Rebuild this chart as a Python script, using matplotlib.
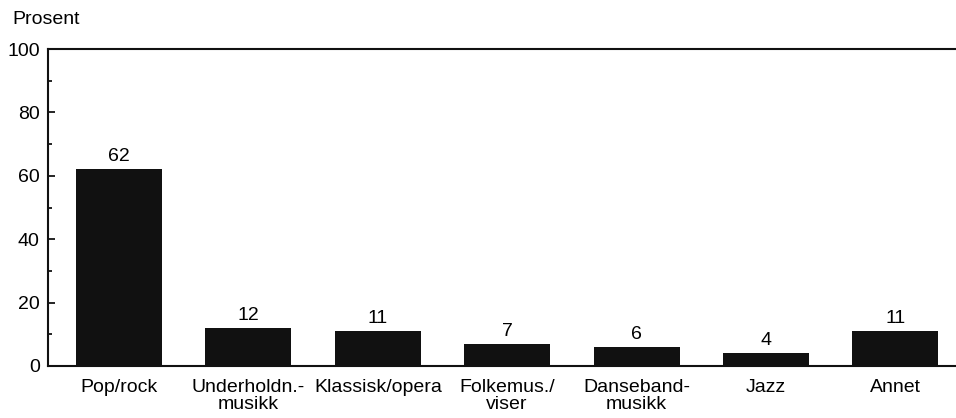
import matplotlib
matplotlib.use("Agg")
import matplotlib.pyplot as plt
from matplotlib import font_manager as fm
from matplotlib.ticker import MultipleLocator

categories = ["Pop/rock", "Underholdn.-\nmusikk", "Klassisk/opera", "Folkemus./\nviser",
              "Danseband-\nmusikk", "Jazz", "Annet"]
values = [62, 12, 11, 7, 6, 4, 11]

names = {f.name for f in fm.fontManager.ttflist}
fam = ["Liberation Sans Narrow", "DejaVu Sans"] if "Liberation Sans Narrow" in names else ["Liberation Sans", "DejaVu Sans"]
plt.rcParams["font.family"] = fam

FS = 14

fig = plt.figure(figsize=(9.56, 4.18), dpi=100)
ax = fig.add_axes([48/956, 52/418, 1 - 48/956, (366-49)/418])

x = list(range(len(categories)))
ax.bar(x, values, width=0.665, color="#111111")
for xi, v in zip(x, values):
    ax.annotate(str(v), (xi, v), xytext=(0, 3), textcoords="offset points",
                ha="center", va="bottom", fontsize=FS)

ax.set_xlim(-0.55, 6.47)
ax.set_ylim(0, 100)
ax.yaxis.set_major_locator(MultipleLocator(20))
ax.yaxis.set_minor_locator(MultipleLocator(10))
ax.set_xticks(x)
ax.set_xticklabels(categories, fontsize=FS, linespacing=1.05)
ax.tick_params(axis="x", length=0, pad=9)
ax.tick_params(axis="y", which="major", direction="in", length=5, width=1.2, labelsize=FS, pad=6)
ax.tick_params(axis="y", which="minor", direction="in", length=3, width=1.2)
for s in ["left", "top", "bottom"]:
    ax.spines[s].set_linewidth(1.5)
    ax.spines[s].set_color("#111111")
ax.spines["right"].set_visible(False)

fig.text(12/956, 1 - 19/418, "Prosent", fontsize=FS, ha="left", va="center")

fig.savefig("out.png", dpi=100)
